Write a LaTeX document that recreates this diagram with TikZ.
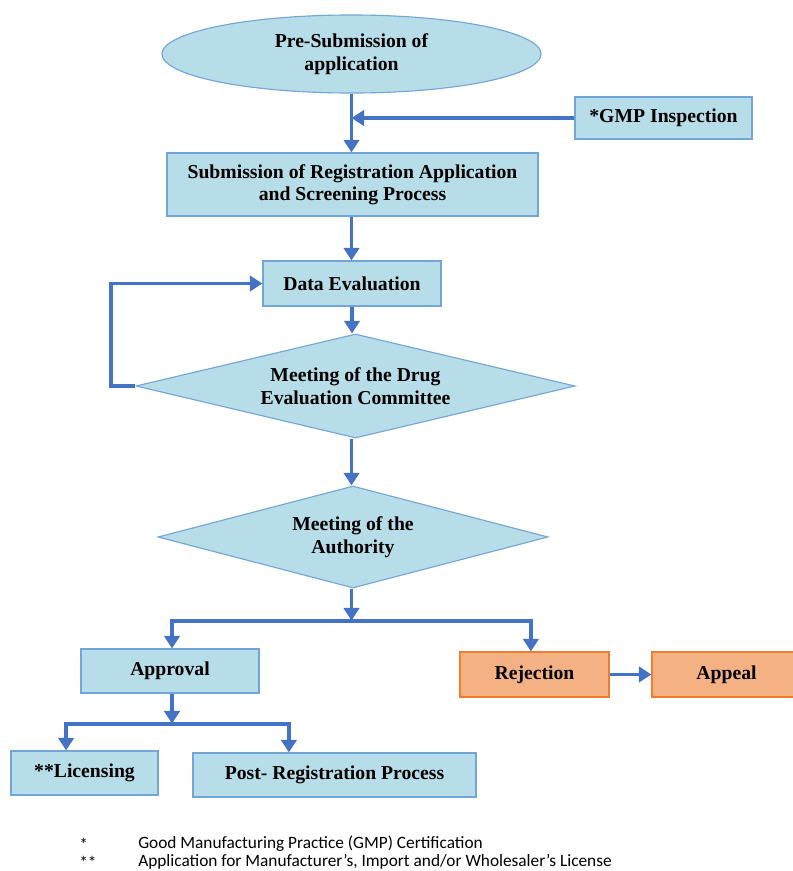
\documentclass[tikz,border=0pt]{standalone}
\usepackage{fontspec}
\setmainfont{Liberation Serif}
\newfontfamily\notefont{Carlito}
\usetikzlibrary{shapes.geometric,arrows.meta}
\definecolor{boxfill}{HTML}{B7DDE8}
\definecolor{boxline}{HTML}{72A6D9}
\definecolor{orfill}{HTML}{F4B183}
\definecolor{orline}{HTML}{ED7D31}
\definecolor{flow}{HTML}{4472C4}

\begin{document}
\begin{tikzpicture}[x=0.025cm,y=-0.025cm,>={Triangle[length=9pt,width=11pt]},
box/.style={draw=boxline,fill=boxfill,line width=0.8pt,align=center,inner sep=2pt,font=\bfseries\fontsize{14}{16}\selectfont},
redbox/.style={box,draw=orline,fill=orfill},
oval/.style={box,ellipse},
decision/.style={box,diamond,inner sep=0pt},
arr/.style={->,draw=flow,line width=2.8pt},
note/.style={anchor=west,inner sep=0pt,font=\notefont\fontsize{12.3}{14}\selectfont}]
\useasboundingbox (0,0) rectangle (793,871);
\node[oval,minimum width=9.475cm,minimum height=1.95cm] (pre) at (351.5,54) {Pre-Submission of\\application};
\node[box,minimum width=4.425cm,minimum height=1.05cm] (gmp) at (663.5,118) {*GMP Inspection};
\node[box,minimum width=9.275cm,minimum height=1.575cm] (sub) at (352.5,184.5) {Submission of Registration Application\\and Screening Process};
\node[box,minimum width=4.45cm,minimum height=1.125cm] (de) at (352,283.5) {Data Evaluation};
\node[decision,shape aspect=4.2,minimum width=10.975cm,minimum height=2.6cm] (dec) at (355.5,386) {Meeting of the Drug\\Evaluation Committee};
\node[decision,shape aspect=3.8,minimum width=9.75cm,minimum height=2.55cm] (auth) at (353,537) {Meeting of the\\Authority};
\node[box,minimum width=4.45cm,minimum height=1.1cm] (appr) at (170,671) {Approval};
\node[redbox,minimum width=3.725cm,minimum height=1.125cm] (rej) at (534.5,674.5) {Rejection};
\node[redbox,minimum width=3.725cm,minimum height=1.125cm] (appeal) at (726.5,674.5) {Appeal};
\node[box,minimum width=3.675cm,minimum height=1.1cm] (lic) at (84.5,773) {**Licensing};
\node[box,minimum width=7.075cm,minimum height=1.1cm] (post) at (334.5,775) {Post- Registration Process};
% footnotes
\node[note] (star1) at (79,844) {*};
\node[note] (note1) at (138,844) {Good Manufacturing Practice (GMP) Certification};
\node[note] (star2) at (79,862) {**};
\node[note] (note2) at (138,862) {Application for Manufacturer’s, Import and/or Wholesaler’s License};
% connectors
\draw[arr] (pre.south) -- (pre.south |- sub.north);
\draw[arr] (gmp.west) -- (gmp.west -| pre.south);
\draw[arr] (sub.south -| pre.south) -- (de.north -| pre.south);
\draw[arr] (de) -- (dec.north -| de);
\draw[arr] (dec.west) -- ++(-24,0) |- (de.west);
\draw[arr] (dec.south -| pre.south) -- (auth.north -| pre.south);
\draw[arr] (auth.south -| pre.south) -- ++(0,32) coordinate (split);
\draw[arr] (split) -| ([xshift=0.05cm]appr.north);
\draw[arr] (split) -| ([xshift=-0.09cm]rej.north);
\draw[arr] ([xshift=0.05cm]appr.south) -- ++(0,30) coordinate (split2);
\draw[arr] (split2) -| ([xshift=-0.46cm]lic.north);
\draw[arr] (split2) -| ([xshift=-1.14cm]post.north);
\draw[arr] (rej) -- (appeal);
\end{tikzpicture}
\end{document}
